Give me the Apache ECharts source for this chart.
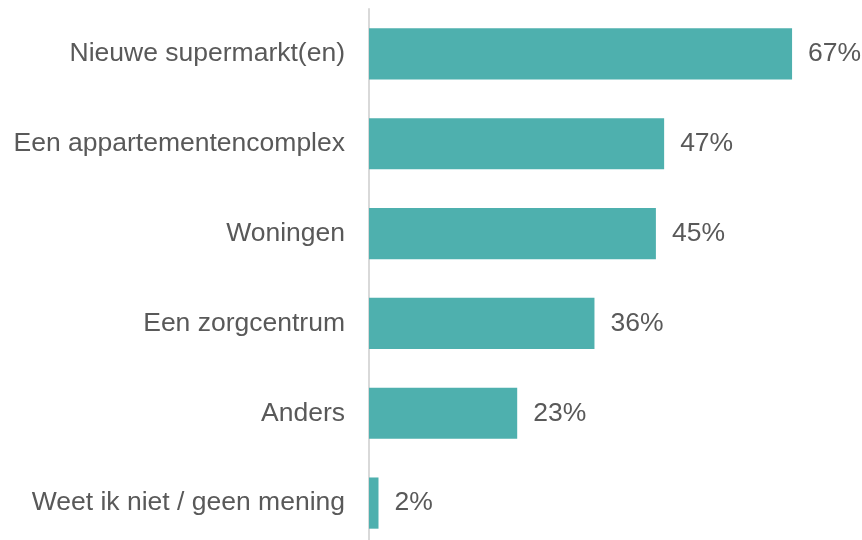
<!DOCTYPE html>
<html>
<head>
<meta charset="utf-8">
<script src="https://cdn.jsdelivr.net/npm/echarts@6/dist/echarts.min.js"></script>
<style>
  html, body { margin: 0; padding: 0; background: #fff; overflow: hidden; }
  /* taller than the window so the last band can run past the bottom edge */
  #chart { width: 862px; height: 560px; }
</style>
</head>
<body>
<div id="chart"></div>
<script>
// categories, top to bottom
const categories = [
  'Nieuwe supermarkt(en)',
  'Een appartementencomplex',
  'Woningen',
  'Een zorgcentrum',
  'Anders',
  'Weet ik niet / geen mening'
];
// percentages (bar lengths as measured; labels are shown rounded)
const values = [66.8, 46.6, 45.3, 35.6, 23.4, 1.5];

const textColor = '#595959';
const font = '"Liberation Sans", Arial, sans-serif';

const chart = echarts.init(document.getElementById('chart'));
chart.setOption({
  animation: false,
  grid: { left: 369, width: 475, top: 9, height: 539, containLabel: false },
  xAxis: {
    type: 'value',
    min: 0,
    max: 75,
    show: false,
    splitLine: { show: false }
  },
  yAxis: {
    type: 'category',
    data: categories,
    inverse: true,
    axisLine: { show: true, lineStyle: { color: '#D9D9D9', width: 2 } },
    axisTick: { show: false },
    axisLabel: {
      margin: 24,
      fontSize: 26.5,
      color: textColor,
      fontFamily: font
    }
  },
  series: [{
    type: 'bar',
    data: values,
    barWidth: '57%',
    itemStyle: { color: '#4EB0AE' },
    label: {
      show: true,
      position: 'right',
      distance: 16,
      formatter: function (p) { return Math.round(p.value) + '%'; },
      fontSize: 26.5,
      color: textColor,
      fontFamily: font
    }
  }]
});
</script>
</body>
</html>
